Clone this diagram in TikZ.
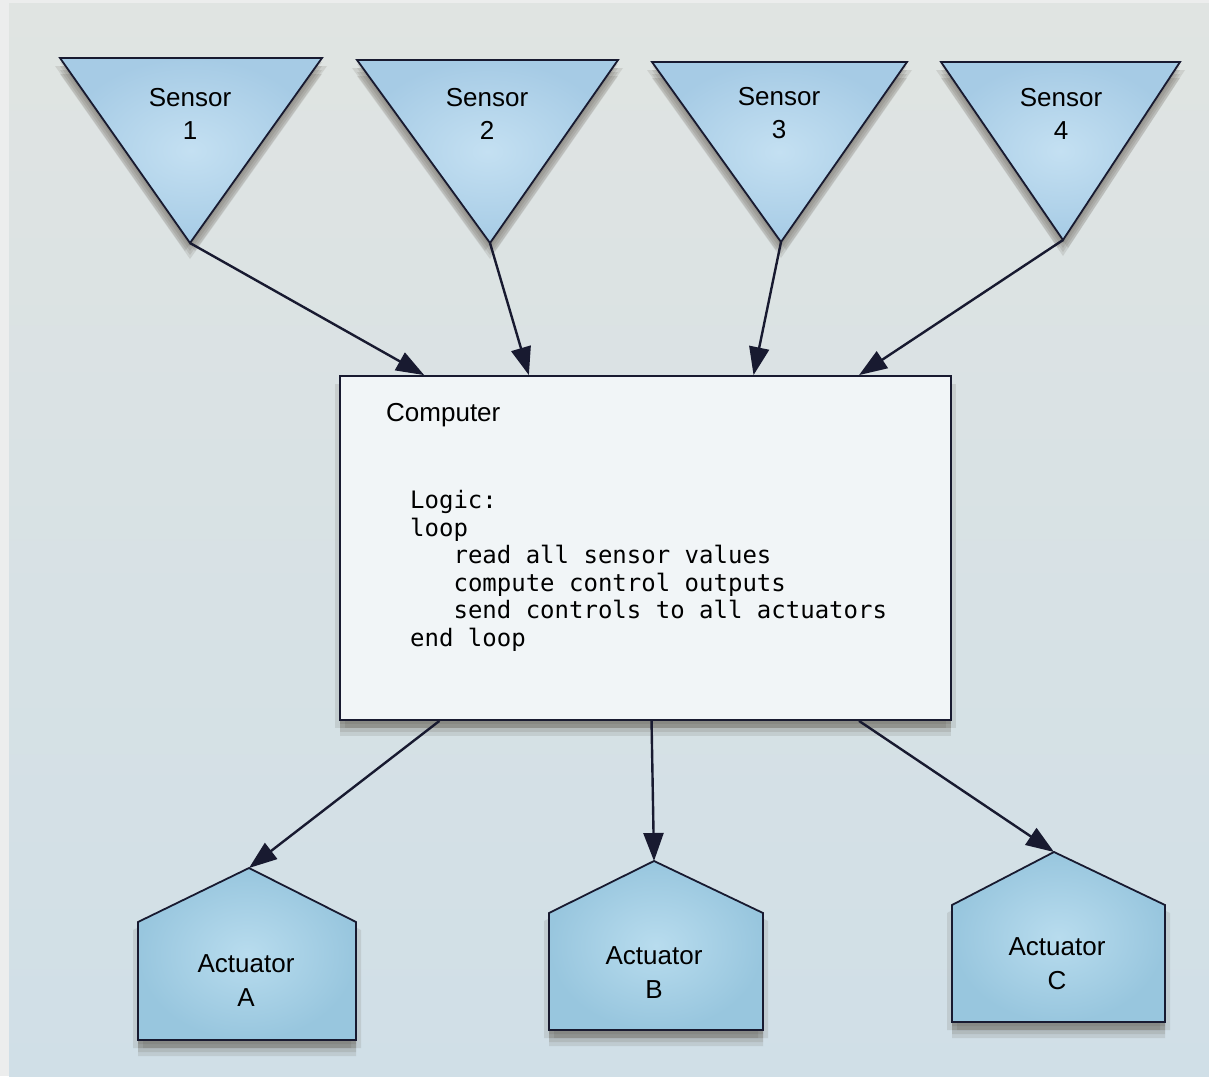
\documentclass[tikz,border=0pt]{standalone}
\usepackage{fontspec}
\setmainfont{Liberation Sans}
\setmonofont{DejaVu Sans Mono}
\usetikzlibrary{arrows.meta,shadows}

\definecolor{pagetop}{RGB}{224,228,226}
\definecolor{pagebottom}{RGB}{208,223,231}
\definecolor{framegrey}{RGB}{236,237,237}
\definecolor{sensorblue}{RGB}{166,203,229}
\definecolor{sensorlight}{RGB}{196,224,242}
\definecolor{actblue}{RGB}{152,198,222}
\definecolor{actlight}{RGB}{184,220,238}
\definecolor{boxwhite}{RGB}{241,245,247}
\definecolor{inkline}{RGB}{24,26,48}
\definecolor{shadowgrey}{RGB}{80,72,60}

\tikzset{
  soft/.style 2 args={drop shadow={shadow xshift=#1, shadow yshift=-#2, opacity=0.13, fill=shadowgrey}},
  part/.style={draw=inkline, line width=1.8pt, line join=miter,
    soft={0pt}{4pt}, soft={0pt}{8pt}, soft={0pt}{12pt}, soft={0pt}{16pt},
    soft={5pt}{8pt}, soft={-5pt}{8pt}},
  sensorpart/.style={part, inner color=sensorlight, outer color=sensorblue},
  actpart/.style={part, inner color=actlight, outer color=actblue},
  link/.style={draw=inkline, line width=2.4pt, -{Triangle[length=28pt,width=20pt]}},
  partname/.style={align=center, text=black, inner sep=0pt},
}

\begin{document}
\begin{tikzpicture}[x=1pt, y=-1pt]
\useasboundingbox (0,0) rectangle (1209,1076);

% page
\fill[framegrey] (0,0) rectangle (1209,1076);
\shade[top color=pagetop, bottom color=pagebottom] (9,3) rectangle (1209,1076);

% sensors
\draw[sensorpart] (60,58) -- (322,58) -- (190,243) -- cycle;
\draw[sensorpart] (357,60) -- (618,60) -- (490,243) -- cycle;
\draw[sensorpart] (652,62) -- (907,62) -- (781,242) -- cycle;
\draw[sensorpart] (941,62) -- (1180,62) -- (1063,240) -- cycle;

\coordinate (s1) at (190,243);
\coordinate (s2) at (490,243);
\coordinate (s3) at (781,242);
\coordinate (s4) at (1063,240);

\node[partname, font=\fontsize{26}{33}\selectfont] (s1name) at (190,113.5) {Sensor\\1};
\node[partname, font=\fontsize{26}{33}\selectfont] (s2name) at (487,113.5) {Sensor\\2};
\node[partname, font=\fontsize{26}{33}\selectfont] (s3name) at (779,113.5) {Sensor\\3};
\node[partname, font=\fontsize{26}{33}\selectfont] (s4name) at (1061,113.5) {Sensor\\4};

% computer
\node[part, fill=boxwhite, minimum width=611pt, minimum height=344pt, inner sep=0pt] (comp) at (645.5,548) {};

\node[anchor=west, inner sep=0pt, text=black, font=\fontsize{26}{31}\selectfont] (comptitle) at (386,415) {Computer};

\node[anchor=north west, align=left, inner sep=0pt, text=black,
      font=\ttfamily\fontsize{24}{27.6}\selectfont] (logic) at (410,490)
  {Logic:\\loop\\\phantom{xxx}read all sensor values\\\phantom{xxx}compute control outputs\\\phantom{xxx}send controls to all actuators\\end loop};

% actuators
\draw[actpart] (138,922) -- (249,868) -- (356,922) -- (356,1040) -- (138,1040) -- cycle;
\draw[actpart] (549,913) -- (654,861) -- (763,913) -- (763,1030) -- (549,1030) -- cycle;
\draw[actpart] (952,905) -- (1054,852) -- (1165,905) -- (1165,1022) -- (952,1022) -- cycle;

\coordinate (a1) at (249,868);
\coordinate (a2) at (654,861);
\coordinate (a3) at (1054,852);

\node[partname, font=\fontsize{26}{34}\selectfont] (a1name) at (246,980.5) {Actuator\\A};
\node[partname, font=\fontsize{26}{34}\selectfont] (a2name) at (654,973) {Actuator\\B};
\node[partname, font=\fontsize{26}{34}\selectfont] (a3name) at (1057,963.5) {Actuator\\C};

% connectors
\draw[link] (s1) -- (comp.142);
\draw[link] (s2) -- (comp.124.6);
\draw[link] (s3) -- (comp.58.7);
\draw[link] (s4) -- (comp.39.7);

\draw[link] (comp.220.2) -- (a1);
\draw[link] (comp.272.8) -- (a2);
\draw[link] (comp.321.7) -- (a3);
\end{tikzpicture}
\end{document}
